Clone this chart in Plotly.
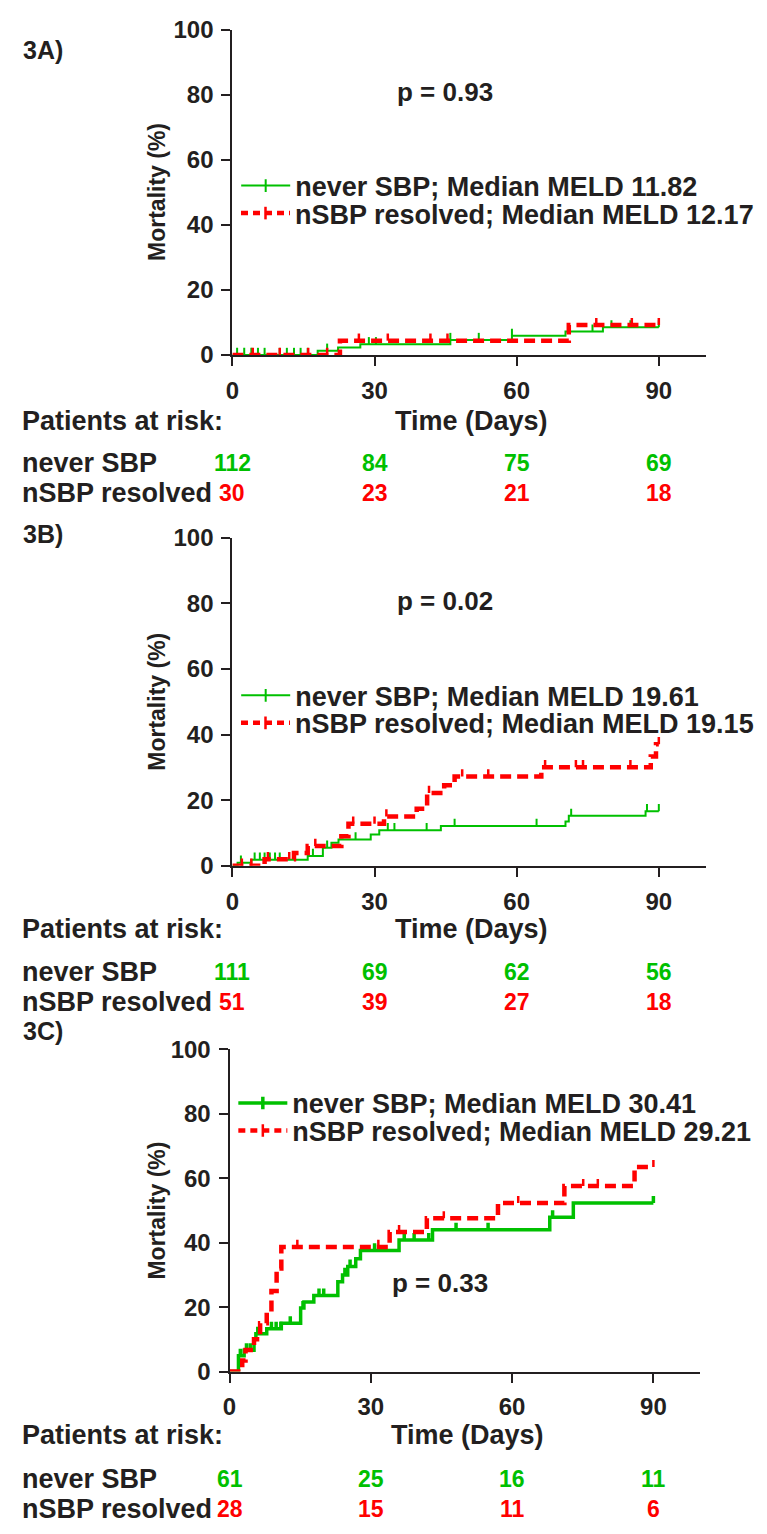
import numpy as np
import plotly.graph_objects as go

# The page body has an 8px default margin, so the figure is sized / positioned to compensate.
OFF = 8
FW, FH = 767 - 2 * OFF, 1534 - 2 * OFF
GREEN = "#00c000"
RED = "#ff0000"
INK = "#231f20"
FONT = "Liberation Sans, Arial, sans-serif"

# ---------------- data ----------------
panels = ["3A)", "3B)", "3C)"]
p_values = ["p = 0.93", "p = 0.02", "p = 0.33"]
series_names = ["never SBP", "nSBP resolved"]
meld_never = ["11.82", "19.61", "30.41"]
meld_resolved = ["12.17", "19.15", "29.21"]
x_ticks = [0, 30, 60, 90]
y_ticks = [0, 20, 40, 60, 80, 100]

# Panel A
a_never_t = [18, 22.3, 27, 46, 59, 70.3, 78.2]
a_never_y = [1.3, 2.3, 3.3, 4.6, 5.9, 7.2, 8.5]
a_never_c = [1, 2.5, 4, 5.4, 6.8, 10, 11.5, 13, 14.4, 15.9, 20, 28.8, 30.3, 46, 52, 59, 76, 80, 84, 90]
a_res_t = [22.7, 71]
a_res_y = [4.4, 9.2]
a_res_c = [4.3, 10, 16, 20, 26.7, 32.8, 41.8, 45.4, 76.8, 84.3, 90]
a_risk_never = [112, 84, 75, 69]
a_risk_res = [30, 23, 21, 18]

# Panel B
b_never_t = [1.1, 4, 15.9, 19.1, 20.9, 22.4, 29.2, 31, 44, 70.3, 71, 87.2]
b_never_y = [0.9, 1.8, 3.0, 5.5, 7.0, 8.0, 9.5, 10.8, 12.1, 13.5, 15.2, 16.6]
b_never_c = [1.8, 4.7, 5.8, 6.8, 7.9, 9, 10, 13, 17, 20, 26, 32.8, 34.2, 41, 46.9, 64.2, 71.5, 87.5, 90]
b_res_t = [6.8, 13, 15.9, 23, 24.5, 32, 38.9, 41.1, 44.7, 46.9, 65.2, 88.3, 89.4]
b_res_y = [2.0, 3.9, 6.0, 9.0, 12.8, 15.0, 17.4, 22.2, 24.5, 27.2, 30.0, 33.3, 37.0]
b_res_c = [2, 4, 7.5, 12, 17.5, 25.5, 30, 32.5, 41.5, 48.5, 54, 66, 72.5, 74, 84, 90]
b_risk_never = [111, 69, 62, 56]
b_risk_res = [51, 39, 27, 18]

# Panel C
c_never_t = [1.9, 3.1, 5.2, 5.6, 7.9, 11, 15.1, 15.8, 17.9, 23, 24, 25.1, 26.8, 27.8, 36, 43.1, 68, 73]
c_never_y = [4.9, 6.6, 10.0, 11.7, 13.3, 15.0, 19.7, 21.6, 23.6, 27.9, 30.0, 32.6, 35.0, 37.6, 40.8, 44.0, 47.9, 52.3]
c_never_c = [2.3, 3.6, 4.4, 6.0, 8.9, 9.9, 10.9, 12.9, 15.6, 19, 20, 24.5, 25.6, 30.8, 37.1, 39.2, 42.3, 48.1, 54.9, 68.6, 90]
c_res_t = [2.7, 3.4, 5.2, 6.5, 7.9, 8.9, 10, 11, 34, 41.9, 57, 71.1, 86]
c_res_y = [3.4, 6.7, 10.0, 15.0, 18.6, 25.0, 32.0, 38.7, 43.3, 47.6, 52.3, 57.6, 63.5]
c_res_c = [14.4, 31.6, 36, 45.5, 61.3, 75.1, 78.2, 90]
c_risk_never = [61, 25, 16, 11]
c_risk_res = [28, 15, 11, 6]

END_DAY = 90
TICK_UP = 2.2   # height of censor ticks, in % units


def fx(px):
    return (px - OFF) / FW


def fy(py):
    return 1 - (py - OFF) / FH


def step_xy(t, y):
    xs = [0] + list(t) + [END_DAY]
    ys = [0] + list(y) + [y[-1]]
    return xs, ys


def cens_y(t, y, c):
    t = np.asarray(t)
    y = np.asarray([0] + list(y))
    idx = np.searchsorted(t, np.asarray(c), side="right")
    return y[idx]


def bold(size, color=INK):
    return dict(family=FONT, size=size, color=color, weight="bold")


def censor_trace(t, y, c, color, width, xa, ya):
    # censor marks drawn as upward-only error bars from the curve
    return go.Scatter(x=c, y=cens_y(t, y, c), mode="markers",
                      marker=dict(size=1, color="rgba(0,0,0,0)"),
                      error_y=dict(type="constant", value=TICK_UP, valueminus=0, symmetric=False,
                                   color=color, thickness=width, width=0),
                      xaxis=xa, yaxis=ya, showlegend=False, hoverinfo="skip")


fig = go.Figure()

layout_cfg = [
    dict(sfx="", xd=(236, 733), yd=(16, 347), leg=(175, 203), lab=37, p=(459, 79),
         mort=181, risk_head=414, rows=(457, 488)),
    dict(sfx="2", xd=(236, 733), yd=(533, 867), leg=(694, 722), lab=529, p=(459, 597),
         mort=700, risk_head=931, rows=(975, 1006)),
    dict(sfx="3", xd=(233, 727), yd=(1054, 1382), leg=(1109, 1137), lab=1035, p=(454, 1292),
         mort=1218, risk_head=1447, rows=(1491, 1522)),
]

data = [
    (a_never_t, a_never_y, a_never_c, a_res_t, a_res_y, a_res_c, a_risk_never, a_risk_res),
    (b_never_t, b_never_y, b_never_c, b_res_t, b_res_y, b_res_c, b_risk_never, b_risk_res),
    (c_never_t, c_never_y, c_never_c, c_res_t, c_res_y, c_res_c, c_risk_never, c_risk_res),
]

green_w = [2, 2, 3.5]
annotations = []
legends = {}
for i, (cfg, d) in enumerate(zip(layout_cfg, data)):
    sfx = cfg["sfx"]
    xa, ya = "x" + sfx, "y" + sfx
    nt, ny, nc, rt, ry, rc, rn, rr = d
    gw = green_w[i]
    leg_n = "legend" if i == 0 else f"legend{2 * i + 1}"
    leg_r = f"legend{2 * i + 2}"

    # never SBP curve + censor ticks
    xs, ys = step_xy(nt, ny)
    fig.add_trace(go.Scatter(x=xs, y=ys, mode="lines", line=dict(color=GREEN, width=gw, shape="hv"),
                             xaxis=xa, yaxis=ya, showlegend=False, hoverinfo="skip"))
    fig.add_trace(censor_trace(nt, ny, nc, GREEN, gw, xa, ya))
    # nSBP resolved curve + censor ticks
    xs, ys = step_xy(rt, ry)
    fig.add_trace(go.Scatter(x=xs, y=ys, mode="lines",
                             line=dict(color=RED, width=4.5, shape="hv", dash="11px,6px"),
                             xaxis=xa, yaxis=ya, showlegend=False, hoverinfo="skip"))
    fig.add_trace(censor_trace(rt, ry, rc, RED, 2.5, xa, ya))
    # legend entries (one legend per row so the rows can sit close together)
    fig.add_trace(go.Scatter(x=[None], y=[None], mode="lines+markers",
                             name=f"{series_names[0]}; Median MELD {meld_never[i]}",
                             line=dict(color=GREEN, width=gw),
                             marker=dict(symbol="line-ns", size=9, line=dict(color=GREEN, width=gw)),
                             xaxis=xa, yaxis=ya, legend=leg_n))
    fig.add_trace(go.Scatter(x=[None], y=[None], mode="lines+markers",
                             name=f"{series_names[1]}; Median MELD {meld_resolved[i]}",
                             line=dict(color=RED, width=4.5, dash="7px,5px"),
                             marker=dict(symbol="line-ns", size=9, line=dict(color=RED, width=2.5)),
                             xaxis=xa, yaxis=ya, legend=leg_r))
    for ln, yy in ((leg_n, cfg["leg"][0]), (leg_r, cfg["leg"][1])):
        legends[ln] = dict(x=fx(cfg["xd"][0] + 4), y=fy(yy), xanchor="left", yanchor="middle",
                           bgcolor="rgba(0,0,0,0)", itemwidth=49, font=bold(27))

    axis_common = dict(showline=True, linecolor=INK, linewidth=2, ticks="outside", ticklen=9,
                       tickwidth=2, tickcolor=INK, showgrid=False, zeroline=False,
                       tickfont=bold(24))
    fig.update_layout(**{
        "xaxis" + sfx: dict(domain=[fx(cfg["xd"][0]), fx(cfg["xd"][1])], range=[0, 100],
                            tickvals=x_ticks, anchor=ya, ticklabelstandoff=4, **axis_common),
        "yaxis" + sfx: dict(domain=[fy(cfg["yd"][1]), fy(cfg["yd"][0])], range=[0, 100],
                            tickvals=y_ticks, anchor=xa, ticklabelstandoff=3, **axis_common),
    })

    def ann(text, x, y, size, color=INK, xref="paper", xanchor="left", angle=0):
        annotations.append(dict(text=text, x=x, y=y, xref=xref, yref="paper", xanchor=xanchor,
                                yanchor="middle", showarrow=False, textangle=angle,
                                font=bold(size, color)))

    ann(panels[i], fx(14), fy(cfg["lab"]), 25)
    ann(p_values[i], fx(cfg["p"][0]), fy(cfg["p"][1]), 26, xanchor="center")
    ann("Mortality (%)", fx(157), fy(cfg["mort"]), 23, xanchor="center", angle=-90)
    ann("Patients at risk:", fx(13), fy(cfg["risk_head"]), 27)
    ann("Time (Days)", 50.5, fy(cfg["risk_head"]), 27, xref=xa, xanchor="center")
    for name, yy in zip(series_names, cfg["rows"]):
        ann(name, fx(13), fy(yy), 27)
    for vals, yy, col in ((rn, cfg["rows"][0], GREEN), (rr, cfg["rows"][1], RED)):
        for xv, v in zip(x_ticks, vals):
            ann(str(v), xv, fy(yy), 23, color=col, xref=xa, xanchor="center")

fig.update_layout(width=FW, height=FH, margin=dict(l=0, r=0, t=0, b=0),
                  paper_bgcolor="white", plot_bgcolor="white", annotations=annotations,
                  **legends)
fig.write_html("out.html")
